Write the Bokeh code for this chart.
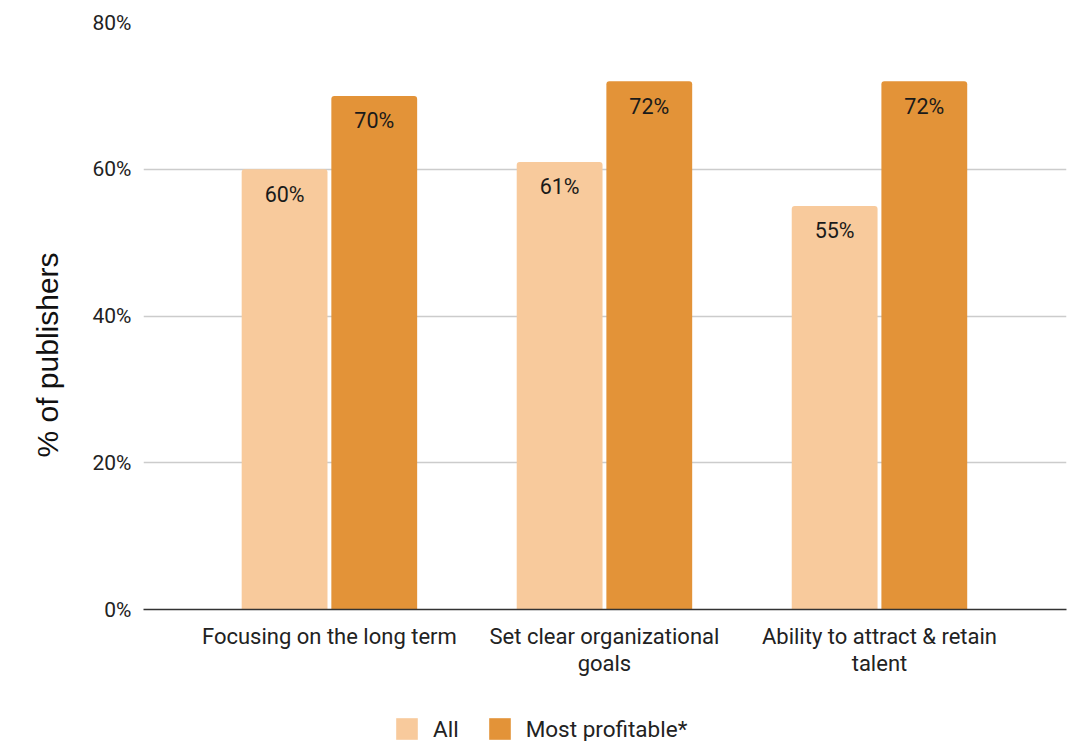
from bokeh.plotting import figure
from bokeh.layouts import column
from bokeh.models import (ColumnDataSource, FixedTicker, Legend, LegendItem,
                          PrintfTickFormatter, Title)
from bokeh.core.properties import value
from bokeh.embed import file_html
from bokeh.resources import INLINE

categories = ["Focusing on the long term",
              "Set clear organizational\ngoals",
              "Ability to attract & retain\ntalent"]
all_pub = [60, 61, 55]
most_profitable = [70, 72, 72]
y_ticks = [0, 20, 40, 60, 80]
series_names = ["All", "Most profitable*"]

LIGHT = "#f8ca9c"
DARK = "#e39338"
FONT = "Roboto"

centers = [i + 0.5 for i in range(len(categories))]
offset = 0.163
bar_w = 0.312

src_all = ColumnDataSource(dict(
    x=[c - offset for c in centers], top=all_pub,
    lbl=[f"{v}%" for v in all_pub]))
src_top = ColumnDataSource(dict(
    x=[c + offset for c in centers], top=most_profitable,
    lbl=[f"{v}%" for v in most_profitable]))

p = figure(width=1072, height=705,
           x_range=(-0.176, 3.18), y_range=(0, 80),
           output_backend="svg", toolbar_location=None,
           min_border_left=143, min_border_right=6, min_border_top=22,
           min_border_bottom=96)
p.outline_line_color = None
p.background_fill_color = "white"
p.border_fill_color = "white"

p.vbar(x="x", top="top", width=bar_w, source=src_all,
       fill_color=LIGHT, line_color=None, border_radius=(3, 3, 0, 0))
p.vbar(x="x", top="top", width=bar_w, source=src_top,
       fill_color=DARK, line_color=None, border_radius=(3, 3, 0, 0))

for src in (src_all, src_top):
    p.text(x="x", y="top", text="lbl", source=src, text_align="center",
           text_baseline="middle", y_offset=25, text_color="#1a1a1a",
           text_font=value(FONT), text_font_size="21.5px")

# y axis
p.yaxis.ticker = FixedTicker(ticks=y_ticks)
p.yaxis.formatter = PrintfTickFormatter(format="%d%%")
p.yaxis.axis_line_color = None
p.yaxis.major_tick_line_color = None
p.yaxis.minor_tick_line_color = None
p.yaxis.major_label_text_font = FONT
p.yaxis.major_label_text_font_size = "21px"
p.yaxis.major_label_text_color = "#222222"
p.yaxis.major_label_standoff = 6
p.ygrid.grid_line_color = "#cccccc"
p.ygrid.grid_line_width = 1.3

# x axis
p.xaxis.ticker = FixedTicker(ticks=centers)
p.xaxis.major_label_overrides = {c: n for c, n in zip(centers, categories)}
p.xaxis.axis_line_color = "#333333"
p.xaxis.axis_line_width = 1.5
p.xaxis.major_tick_line_color = None
p.xaxis.minor_tick_line_color = None
p.xaxis.major_label_text_font = FONT
p.xaxis.major_label_text_font_size = "22px"
p.xaxis.major_label_text_color = "#222222"
p.xaxis.major_label_text_line_height = 1.08
p.xaxis.major_label_standoff = 8
p.xgrid.grid_line_color = None

# vertical axis title, anchored from the frame's bottom edge
p.add_layout(Title(text="% of publishers", align="left", offset=152,
                   text_font="Liberation Sans", text_font_size="30px",
                   text_font_style="normal", text_color="#111111",
                   standoff=52), "left")

# legend strip under the chart; its swatch renderers sit outside the view
lg = figure(width=1072, height=36, x_range=(10, 11), y_range=(200, 201),
            output_backend="svg", toolbar_location=None,
            x_axis_location=None, y_axis_location=None,
            min_border=0)
lg.outline_line_color = None
lg.grid.visible = False
sw_all = lg.vbar(x="x", top="top", width=bar_w, source=src_all,
                 fill_color=LIGHT, line_color=None)
sw_top = lg.vbar(x="x", top="top", width=bar_w, source=src_top,
                 fill_color=DARK, line_color=None)
legend = Legend(items=[LegendItem(label=series_names[0], renderers=[sw_all]),
                       LegendItem(label=series_names[1], renderers=[sw_top])],
                orientation="horizontal", location=(250, -1),
                label_text_font=FONT, label_text_font_size="22.5px",
                label_text_color="#222222", glyph_width=27, glyph_height=27,
                label_height=27, label_standoff=13, spacing=27,
                border_line_color=None, background_fill_alpha=0,
                margin=0, padding=0)
lg.add_layout(legend, "center")

page = column(p, lg, spacing=0)
open("out.html", "w").write(file_html(page, INLINE))
